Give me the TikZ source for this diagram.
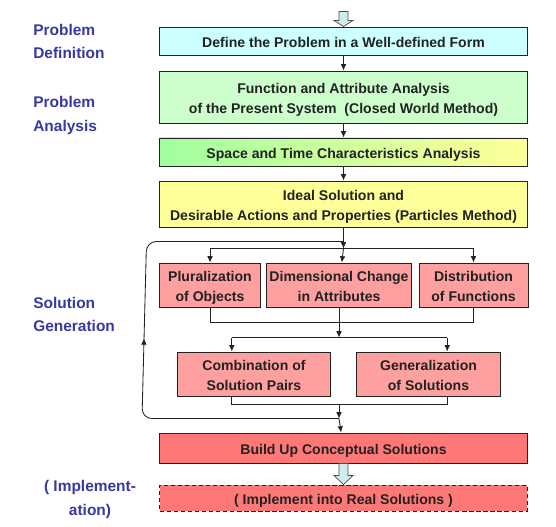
\documentclass[tikz,border=0pt]{standalone}
\usepackage{fontspec}
\setmainfont{Liberation Sans}
\usetikzlibrary{arrows.meta,calc,decorations.markings}

\definecolor{labelblue}{RGB}{56,56,160}
\definecolor{defcyan}{RGB}{204,255,255}
\definecolor{anagreen}{RGB}{204,255,204}
\definecolor{spacegreen}{RGB}{160,255,160}
\definecolor{idealyellow}{RGB}{255,255,153}
\definecolor{genpink}{RGB}{255,160,160}
\definecolor{buildred}{RGB}{255,120,120}
\definecolor{hollowblue}{RGB}{208,236,236}
\definecolor{inkgray}{RGB}{34,34,34}

\tikzset{
  stepbox/.style={draw=inkgray, line width=0.7pt, text=inkgray,
    font=\bfseries\fontsize{10}{14.6}\selectfont, align=center, inner sep=2pt},
  widebox/.style={stepbox, minimum width=9.175cm},
  oneline/.style={text height=9pt, text depth=0pt},
  twoline/.style={text height=24pt, text depth=0pt},
  phase/.style={text=labelblue, font=\bfseries\fontsize{11}{16.4}\selectfont,
    align=left, anchor=west, inner sep=0pt},
  link/.style={draw=inkgray, line width=0.6pt},
  arr/.style={link, -{Latex[length=4.5pt,width=4pt]}},
  fatarrow/.style={draw=inkgray!80, line width=0.5pt, fill=hollowblue},
}

\begin{document}
\begin{tikzpicture}[x=0.025cm,y=-0.025cm]
  \path[use as bounding box] (0,0) rectangle (556,526);

  % phases on the left
  \node[phase] (pdef) at (33,41.5) {Problem\\Definition};
  \node[phase] (pana) at (33,115.5) {Problem\\Analysis};
  \node[phase] (sgen) at (33,314.5) {Solution\\Generation};
  \node[phase, align=center, anchor=center] (pimp) at (90,499.5) {( Implement-\\ation)};

  % main steps
  \node[widebox, oneline, fill=defcyan, minimum height=0.7cm] (define) at (343.5,41)
    {Define the Problem in a Well-defined Form};
  \node[widebox, twoline, fill=anagreen, minimum height=1.3cm] (attrib) at (343.5,97)
    {Function and Attribute Analysis\\of the Present System\ \ (Closed World Method)};
  \node[widebox, oneline, left color=spacegreen, right color=idealyellow, minimum height=0.7cm] (space) at (343.5,152)
    {Space and Time Characteristics Analysis};
  \node[widebox, twoline, fill=idealyellow, minimum height=1.15cm] (ideal) at (343.5,204)
    {Ideal Solution and\\Desirable Actions and Properties (Particles Method)};

  % solution generation
  \node[stepbox, twoline, fill=genpink, minimum width=2.5cm, minimum height=1.1cm] (plural) at (210,285)
    {Pluralization\\of Objects};
  \node[stepbox, twoline, fill=genpink, minimum width=3.6cm, minimum height=1.1cm] (dimen) at (339,285)
    {Dimensional Change\\in Attributes};
  \node[stepbox, twoline, fill=genpink, minimum width=2.725cm, minimum height=1.1cm] (distrib) at (473.5,285)
    {Distribution\\of Functions};
  \node[stepbox, twoline, fill=genpink, minimum width=3.8cm, minimum height=1.1cm] (combine) at (254,374)
    {Combination of\\Solution Pairs};
  \node[stepbox, twoline, fill=genpink, minimum width=3.575cm, minimum height=1.1cm] (general) at (428.5,374)
    {Generalization\\of Solutions};

  \node[widebox, oneline, fill=buildred, minimum height=0.75cm] (build) at (343.5,448)
    {Build Up Conceptual Solutions};
  \node[widebox, oneline, fill=buildred, dash pattern=on 3pt off 2pt, minimum height=0.65cm] (implement) at (343.5,498)
    {( Implement into Real Solutions )};

  % junctions
  \coordinate (fork1) at ($(ideal.south)+(0,21)$);
  \coordinate (join1) at ($(dimen.south)+(0,15)$);
  \coordinate (fork2) at ($(join1)+(0,15)$);
  \coordinate (join2) at ($(fork2)+(0,67)$);
  \coordinate (loopin) at ($(join2)+(0,14)$);
  \coordinate (loopout) at ($(fork1)+(0,-7)$);
  \coordinate (backbot) at ($(loopin)+(-197,0)$);
  \coordinate (backtop) at ($(loopout)+(-197,0)$);
  \coordinate (c6a) at ($(combine.north west)!0.355!(combine.north east)$);
  \coordinate (c6b) at ($(general.north west)!0.63!(general.north east)$);

  % connectors
  \draw[arr] (define) -- (attrib);
  \draw[arr] (attrib) -- (space);
  \draw[arr] (space) -- (ideal);
  \draw[arr] (ideal) -- (fork1);
  \draw[link] (plural.north |- fork1) -- (distrib.north |- fork1);
  \draw[arr] (plural.north |- fork1) -- (plural);
  \draw[arr] (fork1) -- (dimen);
  \draw[arr] (distrib.north |- fork1) -- (distrib);
  \draw[link] (plural) -- (plural.south |- join1) -- (distrib.south |- join1) -- (distrib);
  \draw[link] (dimen) -- (join1);
  \draw[arr] (join1) -- (fork2);
  \draw[link] (c6a |- fork2) -- (c6b |- fork2);
  \draw[arr] (c6a |- fork2) -- (c6a);
  \draw[arr] (c6b |- fork2) -- (c6b);
  \draw[link] (c6a |- combine.south) -- (c6a |- join2) -- (c6b |- join2) -- (c6b |- general.south);
  \draw[arr] (join2) -- (loopin);
  \draw[arr] (loopin) -- (build);
  \draw[link, rounded corners=7pt, postaction={decorate},
    decoration={markings, mark=at position 0.485 with {\arrow{Latex[length=4.5pt,width=4pt]}}}]
    (loopin) -- (backbot) -- (backtop) -- (loopout);

  % hollow arrows
  \draw[fatarrow] ($(define.north)+(-4.5,-15)$) -- ($(define.north)+(4.5,-15)$)
    -- ($(define.north)+(4.5,-6)$) -- ($(define.north)+(9.5,-6)$) -- (define.north)
    -- ($(define.north)+(-9.5,-6)$) -- ($(define.north)+(-4.5,-6)$) -- cycle;
  \draw[fatarrow] ($(build.south)+(-4.5,0)$) -- ($(build.south)+(4.5,0)$)
    -- ($(build.south)+(4.5,12)$) -- ($(build.south)+(9.5,12)$) -- (implement.north)
    -- ($(build.south)+(-9.5,12)$) -- ($(build.south)+(-4.5,12)$) -- cycle;
\end{tikzpicture}
\end{document}
